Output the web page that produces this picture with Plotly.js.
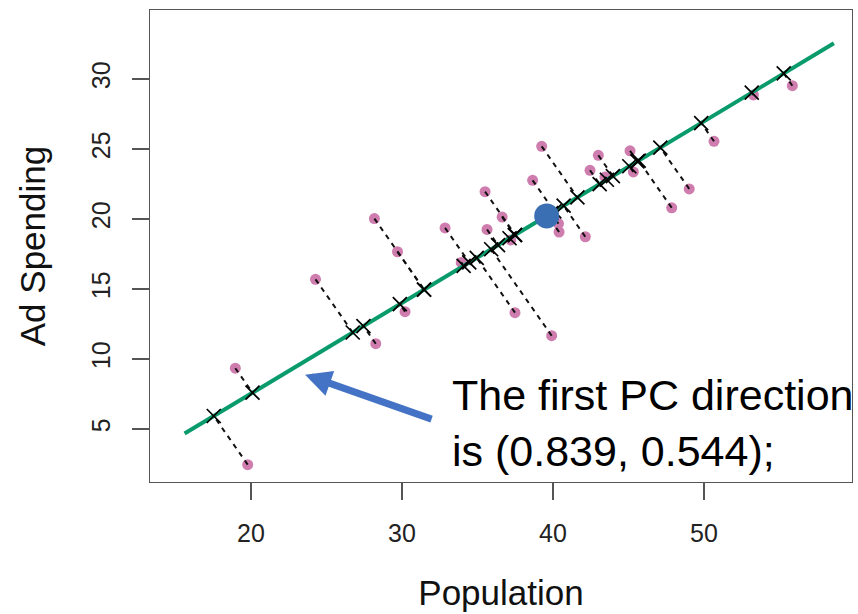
<!DOCTYPE html>
<html>
<head>
<meta charset="utf-8">
<script src="https://cdn.plot.ly/plotly-3.0.1.min.js"></script>
<style>html,body{margin:0;padding:0;background:#fff;}#chart{width:858px;height:614px;}</style>
</head>
<body>
<div id="chart"></div>
<script>
// ---- data ----
const population = [18.96, 19.78, 24.27, 28.26, 28.17, 29.70, 30.20, 32.85, 33.92, 35.50, 35.63, 36.63, 37.20, 37.48, 38.65, 39.25, 39.91, 40.36, 40.40, 42.14, 42.45, 43.00, 43.44, 45.10, 45.32, 47.86, 49.02, 50.66, 53.27, 55.85];
const adSpending = [9.34, 2.45, 15.69, 11.09, 20.03, 17.66, 13.38, 19.36, 16.90, 21.95, 19.25, 20.14, 18.50, 13.31, 22.76, 25.19, 11.66, 19.67, 19.07, 18.73, 23.48, 24.55, 23.00, 24.87, 23.36, 20.80, 22.15, 25.55, 28.86, 29.52];
const meanPoint = [39.58, 20.22];
const pcDirection = [0.839, 0.544];
const lineXRange = [15.6, 58.6];
const xTicks = [20, 30, 40, 50];
const yTicks = [5, 10, 15, 20, 25, 30];
const xLabel = 'Population';
const yLabel = 'Ad Spending';
const noteLines = ['The first PC direction', 'is (0.839, 0.544);'];

// ---- derived: projections onto the first PC line ----
const projX = [], projY = [];
population.forEach((x, i) => {
  const t = (x - meanPoint[0]) * pcDirection[0] + (adSpending[i] - meanPoint[1]) * pcDirection[1];
  projX.push(meanPoint[0] + t * pcDirection[0]);
  projY.push(meanPoint[1] + t * pcDirection[1]);
});
const dashX = [], dashY = [];
population.forEach((x, i) => {
  dashX.push(x, projX[i], null);
  dashY.push(adSpending[i], projY[i], null);
});
const slope = pcDirection[1] / pcDirection[0];
const lineX = lineXRange;
const lineY = lineXRange.map(x => meanPoint[1] + (x - meanPoint[0]) * slope);

const traces = [
  {x: population, y: adSpending, mode: 'markers', type: 'scatter',
   marker: {color: '#CF7CAE', size: 11}, hoverinfo: 'skip'},
  {x: dashX, y: dashY, mode: 'lines', type: 'scatter',
   line: {color: '#111', width: 2, dash: '5px,5px'}, hoverinfo: 'skip'},
  {x: lineX, y: lineY, mode: 'lines', type: 'scatter',
   line: {color: '#0A9B6C', width: 4}, hoverinfo: 'skip'},
  {x: projX, y: projY, mode: 'markers', type: 'scatter',
   marker: {symbol: 'x-thin', size: 14, color: '#000', line: {color: '#000', width: 1.7}}, hoverinfo: 'skip'},
  {x: [meanPoint[0]], y: [meanPoint[1]], mode: 'markers', type: 'scatter',
   marker: {color: '#3B6FB4', size: 25}, hoverinfo: 'skip'}
];

const axisCommon = {
  showgrid: false, zeroline: false, showline: true, mirror: true,
  linecolor: '#555', linewidth: 1.3, ticks: 'outside', ticklen: 17,
  tickwidth: 1.3, tickcolor: '#555',
  tickfont: {family: 'Liberation Sans, Arial, sans-serif', size: 25, color: '#222'}
};

const layout = {
  width: 858, height: 614,
  margin: {l: 150, r: 6, t: 10, b: 132},
  paper_bgcolor: '#fff', plot_bgcolor: '#fff',
  showlegend: false,
  xaxis: Object.assign({}, axisCommon, {
    range: [13.31, 59.8], tickvals: xTicks, ticktext: xTicks.map(String),
    ticklabelstandoff: 12,
    title: {text: xLabel, standoff: 34, font: {family: 'Liberation Sans, Arial, sans-serif', size: 35, color: '#111'}}
  }),
  yaxis: Object.assign({}, axisCommon, {
    range: [1.21, 34.93], tickvals: yTicks, ticktext: yTicks.map(String),
    tickangle: -90, ticklabelstandoff: 12,
    title: {text: yLabel, standoff: 30, font: {family: 'Liberation Sans, Arial, sans-serif', size: 35, color: '#111'}}
  }),
  annotations: [
    {x: 23.58, y: 8.88, xref: 'x', yref: 'y', text: '', showarrow: true,
     ax: 128, ay: 45, arrowhead: 2, arrowsize: 0.75, arrowwidth: 7,
     arrowcolor: '#4472C4', standoff: 0},
    {x: 0.427, y: 0.125, xref: 'paper', yref: 'paper', xanchor: 'left', yanchor: 'middle',
     align: 'left', showarrow: false, text: noteLines.join('<br>'),
     font: {family: 'Liberation Sans, Arial, sans-serif', size: 43, color: '#000'}}
  ]
};

Plotly.newPlot('chart', traces, layout, {staticPlot: true, displayModeBar: false});
</script>
</body>
</html>
